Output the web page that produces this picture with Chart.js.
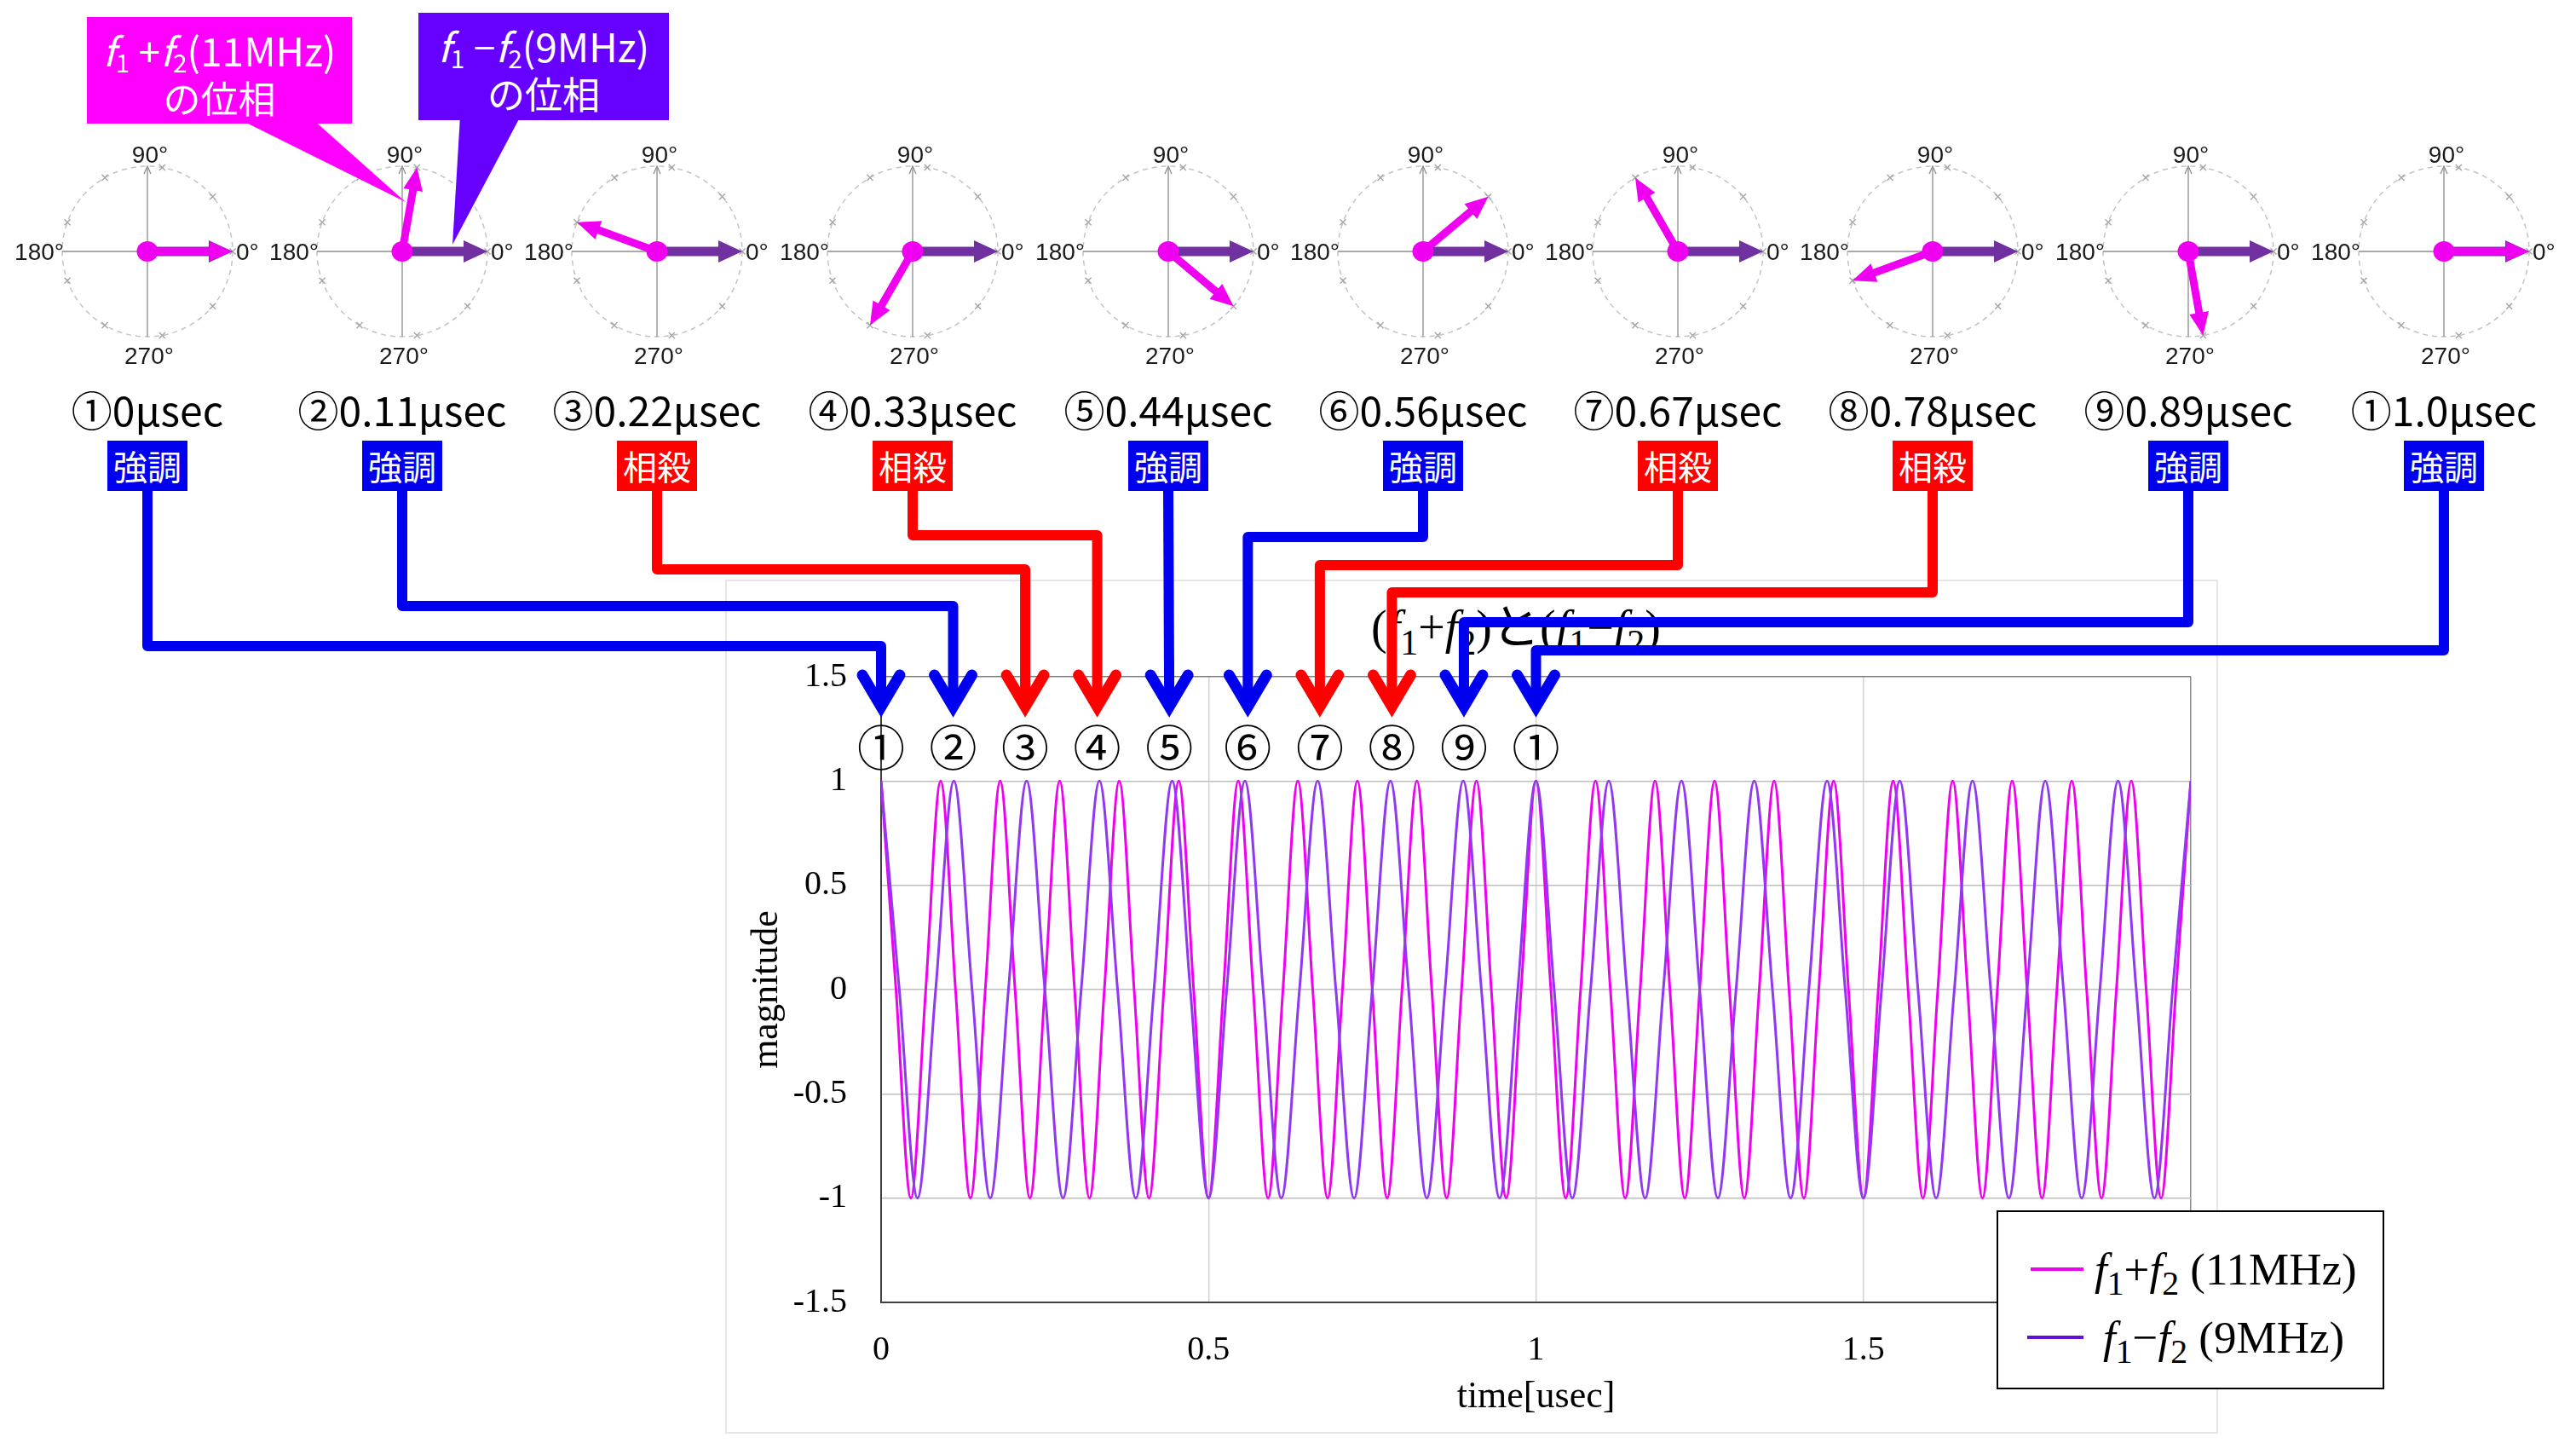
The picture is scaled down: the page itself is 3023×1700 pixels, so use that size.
<!DOCTYPE html>
<html>
<head>
<meta charset="utf-8">
<script src="https://cdn.jsdelivr.net/npm/chart.js@4.4.1/dist/chart.umd.min.js"></script>
<style>
  body { margin: 0; background: #fff; }
  #page { position: relative; width: 3023px; height: 1700px; overflow: hidden; background: #fff; }
  .abs { position: absolute; }
  .tlabel { width: 320px; text-align: center; font: 48px/60px 'Noto Sans CJK JP', 'Noto Sans', sans-serif; color: #000; white-space: nowrap; }
  .badge { width: 94px; height: 59px; text-align: center; color: #fff; font: 40px/59px 'Noto Sans CJK JP', sans-serif; }
  .callout { color: #fff; text-align: center; font-family: 'Noto Sans CJK JP', 'Noto Sans', sans-serif; }
  .callout div { position: absolute; left: 0; right: 0; white-space: nowrap; }
  .callout .l1 { top: 10px; font-size: 46px; line-height: 56px; }
  .callout .l2 { top: 66px; font-size: 44px; line-height: 56px; }
  .callout i, #title i, #legend i { font-style: italic; }
  .callout sub { font-size: 0.65em; vertical-align: -0.25em; }
  #title { left: 1459px; top: 706px; width: 640px; text-align: center; font: 56px/60px 'Liberation Serif', 'Noto Sans CJK JP', serif; color: #000; white-space: nowrap; }
  #title sub, #legend sub { font-size: 0.75em; vertical-align: -0.3em; }
  #legend { left: 2343px; top: 1420px; width: 451px; height: 206px; border: 2px solid #000; background: #fff; }
  #legend .row { position: absolute; left: 0; height: 60px; font: 53px/60px 'Liberation Serif', serif; color: #000; white-space: nowrap; }
  #legend .swatch { position: absolute; left: 38px; top: 28px; width: 62px; height: 4px; }
  #legend .txt { position: absolute; top: 0; }
</style>
</head>
<body>
<div id="page">
  <div class="abs" style="left:851px;top:680px;width:1748px;height:998px;border:2px solid #e6e6e6;"></div>
  <div id="title" class="abs">(<i>f</i><sub>1</sub>+<i>f</i><sub>2</sub>)と(<i>f</i><sub>1</sub>−<i>f</i><sub>2</sub>)</div>
  <canvas id="main" class="abs" style="left:0;top:0" width="3023" height="1700"></canvas>
</div>
<script>
// time of each snapshot [usec] and its labels
const timeMarks = [0, 0.11, 0.22, 0.33, 0.44, 0.56, 0.67, 0.78, 0.89, 1.0];
const timeLabels = ['①0μsec', '②0.11μsec', '③0.22μsec', '④0.33μsec', '⑤0.44μsec',
                    '⑥0.56μsec', '⑦0.67μsec', '⑧0.78μsec', '⑨0.89μsec', '①1.0μsec'];
const markLabels = ['①', '②', '③', '④', '⑤', '⑥', '⑦', '⑧', '⑨', '①'];
const effects = ['強調', '強調', '相殺', '相殺', '強調', '強調', '相殺', '相殺', '強調', '強調'];

// phase of each component at those times [deg]
const phaseSum = [0, 80, 160, 240, 320, 40, 120, 200, 280, 0];   // f1+f2 (11MHz)
const phaseDiff = [0, 0, 0, 0, 0, 0, 0, 0, 0, 0];                // f1-f2 (9MHz)
const markerAngles = [0, 40, 80, 120, 160, 200, 240, 280, 320];
const polarTickAngles = [0, 90, 180, 270];
const polarTickLabels = ['0°', '90°', '180°', '270°'];

// waveform nodes every quarter period, 0 .. 2 usec
const wave11 = [
  1, 0, -1, 0,  1, 0, -1, 0,  1, 0, -1, 0,  1, 0, -1, 0,
  1, 0, -1, 0,  1, 0, -1, 0,  1, 0, -1, 0,  1, 0, -1, 0,
  1, 0, -1, 0,  1, 0, -1, 0,  1, 0, -1, 0,  1, 0, -1, 0,
  1, 0, -1, 0,  1, 0, -1, 0,  1, 0, -1, 0,  1, 0, -1, 0,
  1, 0, -1, 0,  1, 0, -1, 0,  1, 0, -1, 0,  1, 0, -1, 0,
  1, 0, -1, 0,  1, 0, -1, 0,
  1
];
const wave9 = [
  1, 0, -1, 0,  1, 0, -1, 0,  1, 0, -1, 0,  1, 0, -1, 0,
  1, 0, -1, 0,  1, 0, -1, 0,  1, 0, -1, 0,  1, 0, -1, 0,
  1, 0, -1, 0,  1, 0, -1, 0,  1, 0, -1, 0,  1, 0, -1, 0,
  1, 0, -1, 0,  1, 0, -1, 0,  1, 0, -1, 0,  1, 0, -1, 0,
  1, 0, -1, 0,  1, 0, -1, 0,
  1
];
const xTickValues = [0, 0.5, 1, 1.5, 2];
const yTickValues = [-1.5, -1, -0.5, 0, 0.5, 1, 1.5];

const SUM_COLOR = '#f000f0';
const DIFF_COLOR = '#9138f2';
const DIFF_LEGEND = '#6010d8';
const DIFF_ARROW = '#7030a0';
const BLUE = '#0000f0';
const RED = '#ff0000';

// layout
const polarX = [173, 472, 771, 1071, 1371, 1670, 1969, 2268, 2568, 2868];
const polarY = 295;
const bendY = [758, 711, 668, 628, null, 630, 663, 695, 730, 763];

const page = document.getElementById('page');

function drawArrow(ctx, from, to, color, w, hl, hw) {
  const dx = to.x - from.x, dy = to.y - from.y;
  const len = Math.hypot(dx, dy), ux = dx / len, uy = dy / len;
  const bx = to.x - ux * hl, by = to.y - uy * hl;
  ctx.strokeStyle = color;
  ctx.lineWidth = w;
  ctx.lineCap = 'butt';
  ctx.beginPath();
  ctx.moveTo(from.x, from.y);
  ctx.lineTo(bx + ux * 2, by + uy * 2);
  ctx.stroke();
  ctx.fillStyle = color;
  ctx.beginPath();
  ctx.moveTo(to.x, to.y);
  ctx.lineTo(bx - uy * hw / 2, by + ux * hw / 2);
  ctx.lineTo(bx + uy * hw / 2, by - ux * hw / 2);
  ctx.closePath();
  ctx.fill();
}

// radar grid every 10 deg, index 0 at the right, counter-clockwise
const angleGrid = [];
for (let k = 0; k < 36; k++) angleGrid.push(((360 - 10 * k) % 360) + '°');
const angleIndex = deg => ((360 - deg) / 10) % 36;
const markerData = angleGrid.map((lab, k) => markerAngles.includes((360 - 10 * k) % 360) ? 1 : null);

const phasorPlugin = {
  id: 'phasor',
  afterDatasetsDraw(chart, args, opts) {
    const r = chart.scales.r, ctx = chart.ctx, n = opts.index;
    const c = r.getPointPositionForValue(0, 0);
    ctx.save();
    // small arrow tip on the 90° axis
    const top = r.getPointPositionForValue(angleIndex(90), 1);
    ctx.strokeStyle = '#8c8c8c';
    ctx.lineWidth = 1.3;
    ctx.beginPath();
    ctx.moveTo(top.x - 4, top.y + 9);
    ctx.lineTo(top.x, top.y);
    ctx.lineTo(top.x + 4, top.y + 9);
    ctx.stroke();
    // degree labels
    ctx.font = '28px "Liberation Sans", Arial, sans-serif';
    ctx.fillStyle = '#1a1a1a';
    ctx.textBaseline = 'alphabetic';
    polarTickAngles.forEach((a, j) => {
      const p = r.getPointPositionForValue(angleIndex(a), 1);
      const lab = polarTickLabels[j];
      if (a === 0) { ctx.textAlign = 'left'; ctx.fillText(lab, p.x + 4, p.y + 10); }
      else if (a === 90) { ctx.textAlign = 'center'; ctx.fillText(lab, p.x + 3, p.y - 4); }
      else if (a === 180) { ctx.textAlign = 'right'; ctx.fillText(lab, p.x + 2, p.y + 10); }
      else { ctx.textAlign = 'center'; ctx.fillText(lab, p.x + 2, p.y + 32); }
    });
    // phasors
    drawArrow(ctx, c, r.getPointPositionForValue(angleIndex(phaseDiff[n]), 1), DIFF_ARROW, 11, 28, 26);
    drawArrow(ctx, c, r.getPointPositionForValue(angleIndex(phaseSum[n]), 1), SUM_COLOR, 9, 27, 23);
    ctx.fillStyle = SUM_COLOR;
    ctx.beginPath();
    ctx.ellipse(c.x, c.y, 12.5, 12, 0, 0, Math.PI * 2);
    ctx.fill();
    ctx.restore();
  }
};

polarX.forEach((cx, i) => {
  const cv = document.createElement('canvas');
  cv.width = 340; cv.height = 300;
  cv.className = 'abs';
  cv.style.left = (cx - 170) + 'px';
  cv.style.top = (polarY - 150) + 'px';
  page.appendChild(cv);
  new Chart(cv, {
    type: 'radar',
    data: {
      labels: angleGrid,
      datasets: [{
        data: markerData,
        showLine: false,
        fill: false,
        backgroundColor: 'transparent',
        pointStyle: 'crossRot',
        pointRadius: 5,
        pointBorderColor: '#a6a6a6',
        pointBackgroundColor: 'transparent',
        pointBorderWidth: 1.4
      }]
    },
    options: {
      responsive: false,
      animation: false,
      events: [],
      layout: { padding: { left: 70, right: 70, top: 50, bottom: 50 } },
      plugins: { legend: { display: false }, tooltip: { enabled: false }, phasor: { index: i } },
      scales: {
        r: {
          min: 0, max: 1,
          startAngle: 90,
          ticks: { display: false, stepSize: 1 },
          pointLabels: { display: false },
          grid: { circular: true, color: '#c4c4c4', lineWidth: 1.5 },
          border: { dash: [6, 5] },
          angleLines: { color: '#8c8c8c', lineWidth: c => (c.index % 9 === 0 ? 1.3 : 0) }
        }
      }
    },
    plugins: [phasorPlugin]
  });

  const t = document.createElement('div');
  t.className = 'abs tlabel';
  t.style.left = (cx - 160) + 'px';
  t.style.top = '449px';
  t.textContent = timeLabels[i];
  page.appendChild(t);

  const b = document.createElement('div');
  b.className = 'abs badge';
  b.style.left = (cx - 47) + 'px';
  b.style.top = '517px';
  b.style.background = effects[i] === '強調' ? BLUE : RED;
  b.textContent = effects[i];
  page.appendChild(b);
});

// callouts
page.insertAdjacentHTML('beforeend', `
  <div class="abs callout" style="left:102px;top:20px;width:311px;height:125px;background:#ff00ff;">
    <div class="l1"><i>f</i><sub>1</sub> +<i>f</i><sub>2</sub>(11MHz)</div>
    <div class="l2">の位相</div>
  </div>
  <div class="abs callout" style="left:491px;top:15px;width:294px;height:126px;background:#6600ff;">
    <div class="l1"><i>f</i><sub>1</sub> −<i>f</i><sub>2</sub>(9MHz)</div>
    <div class="l2">の位相</div>
  </div>
  <svg class="abs" style="left:0;top:0" width="900" height="320">
    <polygon points="281,140 367,140 476,237" fill="#ff00ff"/>
    <polygon points="540,136 611,136 531,287" fill="#6600ff"/>
  </svg>
  <div id="legend" class="abs">
    <div class="row" style="top:37px;width:100%">
      <div class="swatch" style="background:${SUM_COLOR}"></div>
      <div class="txt" style="left:113px"><i>f</i><sub>1</sub>+<i>f</i><sub>2</sub> (11MHz)</div>
    </div>
    <div class="row" style="top:117px;width:100%">
      <div class="swatch" style="left:34px;width:66px;background:${DIFF_LEGEND}"></div>
      <div class="txt" style="left:123px"><i>f</i><sub>1</sub>−<i>f</i><sub>2</sub> (9MHz)</div>
    </div>
  </div>
`);

const connectorPlugin = {
  id: 'connectors',
  afterDatasetsDraw(chart) {
    const ctx = chart.ctx, xs = chart.scales.x, top = chart.chartArea.top;
    const tipY = top + 49;
    ctx.save();
    timeMarks.forEach((t, i) => {
      const xe = xs.getPixelForValue(t);
      const x0 = polarX[i];
      const col = effects[i] === '強調' ? BLUE : RED;
      ctx.strokeStyle = col;
      ctx.lineWidth = 12;
      ctx.lineJoin = 'round';
      ctx.lineCap = 'butt';
      ctx.beginPath();
      ctx.moveTo(x0, 574);
      if (bendY[i] !== null) {
        ctx.lineTo(x0, bendY[i]);
        ctx.lineTo(xe, bendY[i]);
      }
      ctx.lineTo(xe, tipY - 20);
      ctx.stroke();
      // arrow head
      ctx.lineWidth = 13;
      ctx.lineJoin = 'miter';
      ctx.miterLimit = 10;
      ctx.lineCap = 'round';
      ctx.beginPath();
      ctx.moveTo(xe - 22, tipY - 51);
      ctx.lineTo(xe, tipY - 14);
      ctx.lineTo(xe + 22, tipY - 51);
      ctx.stroke();
      // circled number
      ctx.fillStyle = '#000';
      ctx.font = '56px "Noto Sans CJK JP", "DejaVu Sans", sans-serif';
      ctx.textAlign = 'center';
      ctx.textBaseline = 'middle';
      ctx.fillText(markLabels[i], xe, top + 83);
    });
    ctx.restore();
  }
};

const serif = "'Liberation Serif', 'Times New Roman', serif";
const plain = v => String(v);
new Chart(document.getElementById('main'), {
  type: 'line',
  data: {
    datasets: [
      {
        label: 'f1+f2 (11MHz)',
        data: wave11.map((v, k) => ({ x: k, y: v })),
        xAxisID: 'x11',
        borderColor: SUM_COLOR,
        borderWidth: 3,
        pointRadius: 0,
        cubicInterpolationMode: 'monotone',
        order: 1
      },
      {
        label: 'f1-f2 (9MHz)',
        data: wave9.map((v, k) => ({ x: k, y: v })),
        xAxisID: 'x9',
        borderColor: DIFF_COLOR,
        borderWidth: 3,
        pointRadius: 0,
        cubicInterpolationMode: 'monotone',
        order: 0
      }
    ]
  },
  options: {
    responsive: false,
    animation: false,
    events: [],
    layout: { padding: { left: 874, right: 452, top: 794, bottom: 32 } },
    plugins: { legend: { display: false }, title: { display: false }, tooltip: { enabled: false } },
    scales: {
      x11: { type: 'linear', display: false, min: 0, max: wave11.length - 1 },
      x9: { type: 'linear', display: false, min: 0, max: wave9.length - 1 },
      x: {
        type: 'linear',
        position: 'bottom',
        min: 0, max: 2,
        afterBuildTicks: s => { s.ticks = xTickValues.map(v => ({ value: v })); },
        afterFit: s => { s.height = 140; },
        ticks: { font: { family: serif, size: 40 }, color: '#000', padding: 32, maxRotation: 0, callback: plain },
        grid: {
          drawTicks: false,
          lineWidth: 1.5,
          color: c => (c.tick && c.tick.value === 2 ? '#8c8c8c' : '#d4d4d4')
        },
        border: { color: '#404040', width: 2 },
        title: { display: true, text: 'time[usec]', font: { family: serif, size: 44 }, color: '#000', padding: { top: 0, bottom: 2 } }
      },
      y: {
        type: 'linear',
        position: 'left',
        min: -1.5, max: 1.5,
        afterBuildTicks: s => { s.ticks = yTickValues.map(v => ({ value: v })); },
        afterFit: s => { s.width = 160; },
        ticks: { font: { family: serif, size: 40 }, color: '#000', padding: 40, callback: plain },
        grid: {
          drawTicks: false,
          lineWidth: 1.5,
          color: c => (c.tick && c.tick.value === 1.5 ? '#7f7f7f' : '#bfbfbf')
        },
        border: { color: '#404040', width: 2 },
        title: { display: true, text: 'magnitude', font: { family: serif, size: 44 }, color: '#000', padding: { top: 0, bottom: 0 } }
      }
    }
  },
  plugins: [connectorPlugin]
});
</script>
</body>
</html>
